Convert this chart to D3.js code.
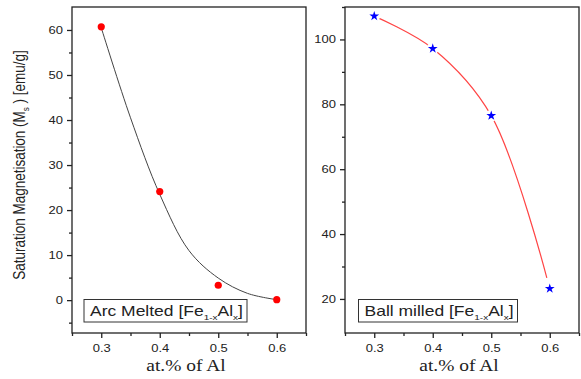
<!DOCTYPE html>
<html>
<head>
<meta charset="UTF-8">
<script src="https://cdn.jsdelivr.net/npm/d3@7"></script>
<style>
  body { margin: 0; background: #fff; }
  text { font-family: "Liberation Sans", Arial, sans-serif; fill: #222; }
</style>
</head>
<body>
<script>
// x values (at.% of Al)
var alContent = [0.3, 0.4, 0.5, 0.6];
// arc melted Ms (emu/g), points and fitted curve
var arcMs = [60.7, 24.1, 3.3, 0.1];
var arcFitX = [0.3, 0.35, 0.4, 0.45, 0.5, 0.55, 0.6];
var arcFitY = [60.5, 40.5, 23.5, 11, 4.9, 1.5, 0.1];
// ball milled Ms (emu/g), points and spline
var ballMs = [107.2, 97.2, 76.5, 23.2];
var ballFitX = [0.3, 0.4, 0.5, 0.595];
var ballFitY = [107.2, 97.2, 76.5, 26.5];
var xTicks = [0.3, 0.4, 0.5, 0.6];
var arcTicks = [0, 10, 20, 30, 40, 50, 60];
var ballTicks = [20, 40, 60, 80, 100];

// the original figure is stretched sideways a bit
var SX = 1.18;

var svg = d3.select("body").append("svg")
    .attr("width", 581).attr("height", 379);

function panel(left, right, yDomain, yTicks, yMinor) {
    var x = d3.scaleLinear().domain([0.25, 0.65]).range([left, right]);
    var y = d3.scaleLinear().domain(yDomain).range([333, 7]);
    var g = svg.append("g");
    g.append("rect")
        .attr("x", left).attr("y", 7)
        .attr("width", right - left).attr("height", 326)
        .attr("fill", "none").attr("stroke", "#222").attr("stroke-width", 1.3);
    g.append("g").attr("transform", "translate(0,333)")
        .call(d3.axisBottom(x).tickValues(xTicks).tickSize(5).tickPadding(6)
            .tickFormat(d3.format(".1f")));
    g.append("g").attr("transform", "translate(0,333)")
        .call(d3.axisBottom(x).tickValues([0.25, 0.35, 0.45, 0.55, 0.65]).tickSize(3).tickFormat(""));
    g.append("g").attr("class", "yax").attr("transform", "translate(" + left + ",0)")
        .call(d3.axisLeft(y).tickValues(yTicks).tickSize(5).tickPadding(4));
    g.append("g").attr("transform", "translate(" + left + ",0)")
        .call(d3.axisLeft(y).tickValues(yMinor).tickSize(3).tickFormat(""));
    g.selectAll(".domain").remove();
    g.selectAll(".tick line").attr("stroke", "#222").attr("stroke-width", 1.3);
    g.selectAll(".tick text").style("font-size", "11px").attr("fill", "#222")
        .attr("transform", "scale(" + SX + ",1)");
    g.selectAll(".yax .tick text").attr("x", -9 / SX);
    g.append("text")
        .attr("transform", "translate(" + ((left + right) / 2 - 3) + ",371) scale(" + SX + ",1)")
        .attr("text-anchor", "middle")
        .style("font-family", "'Liberation Serif', 'Times New Roman', serif")
        .style("font-size", "16.5px")
        .text("at.% of Al");
    return { x: x, y: y, g: g };
}

// left panel
var p1 = panel(72, 306, [-7.3, 65.1], arcTicks, [-5, 5, 15, 25, 35, 45, 55]);
p1.g.append("path")
    .datum(d3.zip(arcFitX, arcFitY))
    .attr("d", d3.line().x(function(d) { return p1.x(d[0]); })
        .y(function(d) { return p1.y(d[1]); }).curve(d3.curveCatmullRom))
    .attr("fill", "none").attr("stroke", "#444").attr("stroke-width", 1);
p1.g.selectAll("circle.pt")
    .data(d3.zip(alContent, arcMs)).enter().append("circle")
    .attr("cx", function(d) { return p1.x(d[0]); })
    .attr("cy", function(d) { return p1.y(d[1]); })
    .attr("r", 3.6).attr("fill", "#f00");

// right panel
var p2 = panel(345, 579, [9.5, 110], ballTicks, [30, 50, 70, 90, 110]);
p2.g.append("path")
    .datum(d3.zip(ballFitX, ballFitY))
    .attr("d", d3.line().x(function(d) { return p2.x(d[0]); })
        .y(function(d) { return p2.y(d[1]); }).curve(d3.curveCatmullRom))
    .attr("fill", "none").attr("stroke", "#f44").attr("stroke-width", 1.2);
// Origin-style gaps around symbols
p2.g.selectAll("circle.gap")
    .data(d3.zip(alContent, ballMs)).enter().append("circle")
    .attr("cx", function(d) { return p2.x(d[0]); })
    .attr("cy", function(d) { return p2.y(d[1]); })
    .attr("r", 6).attr("fill", "#fff");
p2.g.selectAll("path.star")
    .data(d3.zip(alContent, ballMs)).enter().append("path")
    .attr("d", d3.symbol(d3.symbolStar, 30))
    .attr("transform", function(d) {
        return "translate(" + p2.x(d[0]) + "," + p2.y(d[1]) + ")";
    })
    .attr("fill", "#00f");

// legend boxes
function legend(x0, w, label) {
    svg.append("rect").attr("x", x0).attr("y", 299.5).attr("width", w).attr("height", 22.5)
        .attr("fill", "#fff").attr("stroke", "#333").attr("stroke-width", 1);
    var t = svg.append("text")
        .attr("transform", "translate(" + (x0 + 6) + ",316) scale(1.25,1)")
        .style("font-size", "14px");
    t.append("tspan").text(label + " [Fe");
    t.append("tspan").attr("dy", 4).style("font-size", "8px").text("1-x");
    t.append("tspan").attr("dy", -4).text("Al");
    t.append("tspan").attr("dy", 4).style("font-size", "8px").text("x");
    t.append("tspan").attr("dy", -4).text("]");
}
legend(84, 163, "Arc Melted");
legend(358.5, 159, "Ball milled");

// y label
var yl = svg.append("text")
    .attr("transform", "translate(25,165) scale(" + SX + ",1) rotate(-90)")
    .attr("text-anchor", "middle")
    .style("font-size", "13.5px");
yl.append("tspan").text("Saturation Magnetisation (M");
yl.append("tspan").attr("dy", 3).style("font-size", "8px").text("s");
yl.append("tspan").attr("dy", -3).text(" ) [emu/g]");
</script>
</body>
</html>
